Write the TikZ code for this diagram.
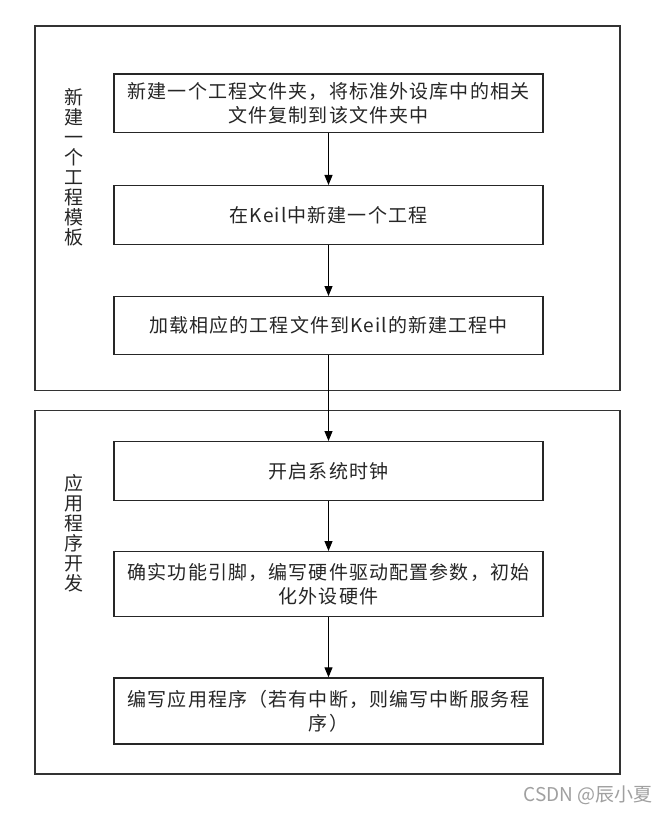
\documentclass[tikz,border=0pt]{standalone}
\usepackage{fontspec}
\newfontfamily\cjk[LetterSpace=6]{Noto Sans CJK SC}
\newfontfamily\cjkwm{Noto Sans CJK SC}
\usetikzlibrary{arrows.meta}
\definecolor{framegray}{HTML}{333333}
\definecolor{wmgray}{HTML}{A0A0A0}
\begin{document}
\begin{tikzpicture}[x=1pt,y=-1pt,
  outerbox/.style={draw=framegray,line width=1.2pt,minimum width=585pt,inner sep=0pt},
  stepbox/.style={draw=black!85,line width=1.4pt,minimum width=429pt,inner sep=0pt,
    align=center,font=\cjk\fontsize{19}{24}\selectfont,text=black!85},
  sidelabel/.style={align=center,inner sep=0pt,font=\cjk\fontsize{19}{20}\selectfont,text=black!85},
  flow/.style={draw=black,line width=1pt,-{Triangle[width=8pt,length=10pt]}}]
\useasboundingbox (0,0) rectangle (668,813);
\fill[white] (0,0) rectangle (668,813);
% outer frames
\node[outerbox,minimum height=364.7pt] (g1) at (327.5,208.35) {};
\node[outerbox,minimum height=363.3pt] (g2) at (327.5,592.35) {};
% side labels
\node[sidelabel] (l1) at (74,167.5) {新\\建\\一\\个\\工\\程\\模\\板};
\node[sidelabel] (l2) at (74,533.5) {应\\用\\程\\序\\开\\发};
% steps
\node[stepbox,minimum height=58.7pt] (a) at (328.5,103.3) {新建一个工程文件夹，将标准外设库中的相关\\文件复制到该文件夹中};
\node[stepbox,minimum height=58.6pt] (b) at (328.5,215) {在Keil中新建一个工程};
\node[stepbox,minimum height=57.6pt] (c) at (328.5,325.5) {加载相应的工程文件到Keil的新建工程中};
\node[stepbox,minimum height=59pt] (d) at (328.5,471.2) {开启系统时钟};
\node[stepbox,minimum height=65pt] (e) at (328.5,584.2) {确实功能引脚，编写硬件驱动配置参数，初始\\化外设硬件};
\node[stepbox,minimum height=66pt] (f) at (328.5,711) {编写应用程序（若有中断，则编写中断服务程\\序）};
% connectors
\draw[flow] (a) -- (b);
\draw[flow] (b) -- (c);
\draw[flow] (c) -- (d);
\draw[flow] (d) -- (e);
\draw[flow] (e) -- (f);
% watermark
\node[text=wmgray,font=\cjkwm\fontsize{19}{22}\selectfont,inner sep=0pt] (wm) at (588,795) {CSDN @辰小夏};
\end{tikzpicture}
\end{document}
